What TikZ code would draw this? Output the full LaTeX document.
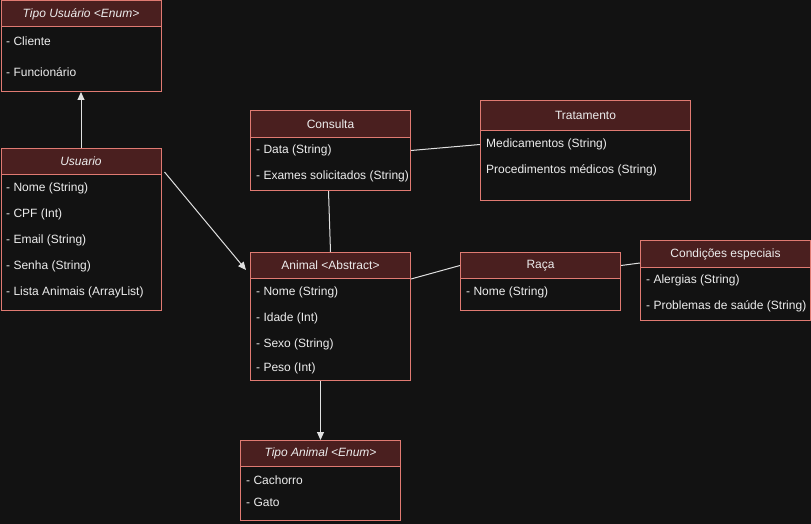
\documentclass[tikz,border=0pt]{standalone}
\usepackage{fontspec}
\setmainfont{Liberation Sans}
\usetikzlibrary{arrows.meta}
\definecolor{bg}{HTML}{121212}
\definecolor{hdr}{HTML}{4A1F1F}
\definecolor{bord}{HTML}{E07A72}
\definecolor{txt}{HTML}{EDEDED}
\definecolor{ln}{HTML}{E0E0E0}
\begin{document}
\begin{tikzpicture}[x=1pt,y=-1pt,
  hd/.style={draw=bord,fill=hdr,line width=1pt,anchor=north west,inner sep=0pt,text=txt,font=\fontsize{12}{14}\selectfont},
  bd/.style={draw=bord,fill=bg,line width=1pt,anchor=north west,inner sep=0pt},
  it/.style={anchor=west,inner sep=0pt,yshift=-1.5pt,text=txt,font=\fontsize{12}{14}\selectfont},
  conn/.style={draw=ln,line width=1pt},
  arr/.style={conn,-{Triangle[length=8pt,width=7pt]}}]
\fill[bg] (0,0) rectangle (811,524);
\useasboundingbox (0,0) rectangle (811,524);

% Tipo Usuario
\node[bd,minimum width=160,minimum height=65] (tuB) at (0.5,26) {};
\node[hd,minimum width=160,minimum height=26] (tuH) at (0.5,0.5) {\itshape Tipo Usuário <Enum>};
\node[it] (tu1) at (6,40) {- Cliente};
\node[it] (tu2) at (6,71) {- Funcionário};

% Usuario
\node[bd,minimum width=160,minimum height=136] (usB) at (0.5,174) {};
\node[hd,minimum width=160,minimum height=26] (usH) at (0.5,148) {\itshape Usuario};
\node[it] (us1) at (6,187) {- Nome (String)};
\node[it] (us2) at (6,213) {- CPF (Int)};
\node[it] (us3) at (6,239) {- Email (String)};
\node[it] (us4) at (6,265) {- Senha (String)};
\node[it] (us5) at (6,291) {- Lista Animais (ArrayList)};

% Consulta
\node[bd,minimum width=160,minimum height=53] (coB) at (250,137) {};
\node[hd,minimum width=160,minimum height=27] (coH) at (250,110) {Consulta};
\node[it] (co1) at (256,149) {- Data (String)};
\node[it] (co2) at (256,175) {- Exames solicitados (String)};

% Tratamento
\node[bd,minimum width=210,minimum height=70] (trB) at (480,130) {};
\node[hd,minimum width=210,minimum height=30] (trH) at (480,100) {Tratamento};
\node[it] (tr1) at (486,143) {Medicamentos (String)};
\node[it] (tr2) at (486,169) {Procedimentos médicos (String)};

% Animal
\node[bd,minimum width=160,minimum height=102] (anB) at (250,278) {};
\node[hd,minimum width=160,minimum height=26] (anH) at (250,252) {Animal <Abstract>};
\node[it] (an1) at (256,291) {- Nome (String)};
\node[it] (an2) at (256,317) {- Idade (Int)};
\node[it] (an3) at (256,343) {- Sexo (String)};
\node[it] (an4) at (256,367) {- Peso (Int)};

% Raca
\node[bd,minimum width=160,minimum height=32] (raB) at (460,278) {};
\node[hd,minimum width=160,minimum height=26] (raH) at (460,252) {Raça};
\node[it] (ra1) at (466,291) {- Nome (String)};

% Condicoes especiais
\node[bd,minimum width=170,minimum height=53] (ceB) at (640,267) {};
\node[hd,minimum width=170,minimum height=27] (ceH) at (640,240) {Condições especiais};
\node[it] (ce1) at (646,279) {- Alergias (String)};
\node[it] (ce2) at (646,305) {- Problemas de saúde (String)};

% Tipo Animal
\node[bd,minimum width=160,minimum height=54] (taB) at (240,466) {};
\node[hd,minimum width=160,minimum height=26] (taH) at (240,440) {\itshape Tipo Animal <Enum>};
\node[it] (ta1) at (246,479) {- Cachorro};
\node[it] (ta2) at (246,501) {- Gato};

% connectors
\draw[arr] (usH.north) -- (tuB.south);
\draw[arr] ([shift={(3,-3)}]usH.south east) -- ([shift={(-4,18)}]anH.north west);
\draw[conn] (coB.east |- co1) -- (trB.west |- tr1);
\draw[conn] ([xshift=-2]coB.south) -- (anH.north);
\draw[conn] (anH.south east) -- (raH.east -| raH.west);
\draw[conn] (raH.east) -- ([yshift=5]ceH.south west);
\draw[arr] ([xshift=-10]anB.south) -- (taH.north);
\end{tikzpicture}
\end{document}
